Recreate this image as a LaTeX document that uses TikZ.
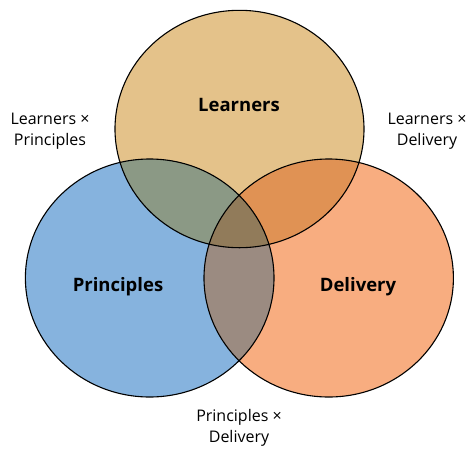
\documentclass[tikz,border=0pt]{standalone}
\usepackage{fontspec}
\setmainfont{Open Sans}
\usepackage{xcolor}
\usetikzlibrary{positioning}

\definecolor{learnerfill}{RGB}{228,194,138}
\definecolor{principlefill}{RGB}{134,179,222}
\definecolor{deliveryfill}{RGB}{248,173,128}
\definecolor{lpfill}{RGB}{139,153,133}
\definecolor{ldfill}{RGB}{224,146,84}
\definecolor{pdfill}{RGB}{155,139,129}
\definecolor{allfill}{RGB}{145,123,90}

\begin{document}
\begin{tikzpicture}[x=1pt, y=-1pt, line width=1.1pt,
    setlabel/.style={font=\bfseries\fontsize{18.5}{20}\selectfont},
    pairlabel/.style={font=\fontsize{16}{20.5}\selectfont, align=center}]
    \useasboundingbox (0,0) rectangle (471,448);

    \coordinate (L) at (239.5,129);
    \coordinate (P) at (149.7,278);
    \coordinate (D) at (328.7,278);
    \def\learnerset{(L) ellipse [x radius=124.5pt, y radius=118.7pt]}
    \def\principleset{(P) ellipse [x radius=124.3pt, y radius=119pt]}
    \def\deliveryset{(D) ellipse [x radius=124.7pt, y radius=119pt]}

    % sets
    \fill[learnerfill] \learnerset;
    \fill[principlefill] \principleset;
    \fill[deliveryfill] \deliveryset;

    % overlaps
    \begin{scope} \clip \learnerset; \fill[lpfill] \principleset; \end{scope}
    \begin{scope} \clip \learnerset; \fill[ldfill] \deliveryset; \end{scope}
    \begin{scope} \clip \principleset; \fill[pdfill] \deliveryset; \end{scope}
    \begin{scope} \clip \learnerset; \clip \principleset; \fill[allfill] \deliveryset; \end{scope}

    \draw \learnerset \principleset \deliveryset;

    \node[setlabel] (learners) at (239,105) {Learners};
    \node[setlabel] (principles) at (118,287) {Principles};
    \node[setlabel] (delivery) at (358,287) {Delivery};

    \node[pairlabel] (lp) at (50,131) {Learners ×\\Principles};
    \node[pairlabel] (ld) at (427,131) {Learners ×\\Delivery};
    \node[pairlabel] (pd) at (239,428) {Principles ×\\Delivery};
\end{tikzpicture}
\end{document}
